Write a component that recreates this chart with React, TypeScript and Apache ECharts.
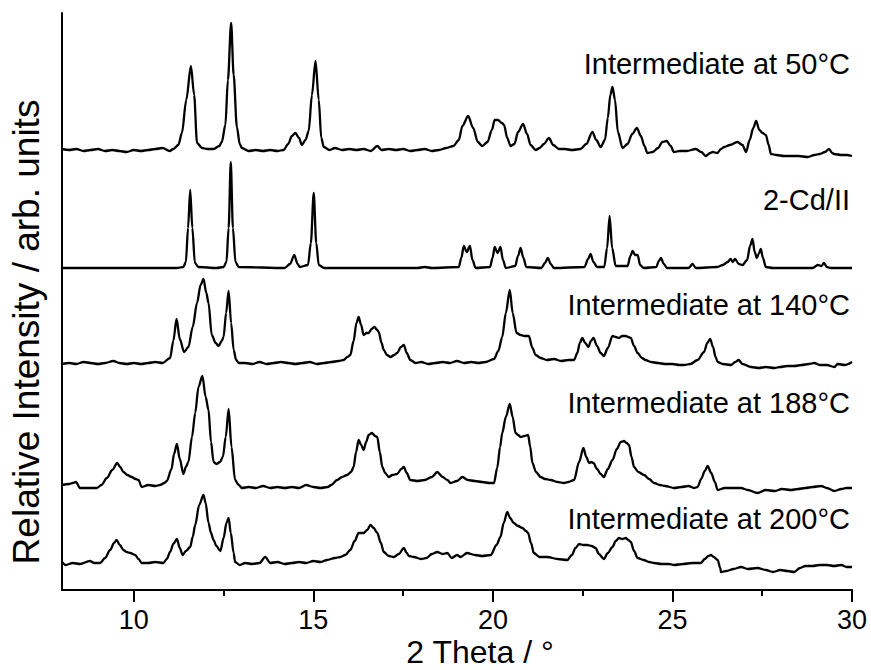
import React, { useEffect, useRef } from "react";
import * as echarts from "echarts";

// 2θ tick positions
const xMajorTicks = [10, 15, 20, 25, 30];
const xMinorTicks = [12.5, 17.5, 22.5, 27.5];

const traceNames = [
  "Intermediate at 50°C",
  "2-Cd/II",
  "Intermediate at 140°C",
  "Intermediate at 188°C",
  "Intermediate at 200°C",
];

// vertical stacking offsets of each pattern (arb. units)
const traceOffsets = [440, 322, 227, 103, 27];

// [2θ, relative intensity] for each pattern
const pattern50: number[][] = [
  [8.0, 1], [8.2, 0], [8.4, 1], [8.6, -1], [8.8, 0], [9.0, 1], [9.2, -1], [9.4, 0], [9.6, -1], [9.8, -2],
  [10.0, 0], [10.2, -1], [10.4, 0], [10.6, 1], [10.8, 2], [11.0, -1], [11.1, 1], [11.24, 5], [11.34, 17],
  [11.46, 50], [11.59, 84], [11.68, 55], [11.76, 7], [11.9, 2], [12.05, 1], [12.22, 1], [12.38, 4],
  [12.45, 8], [12.55, 25], [12.62, 70], [12.71, 127], [12.78, 75], [12.87, 23], [12.95, 6], [13.01, 2],
  [13.2, -1], [13.4, 0], [13.6, -1], [13.8, 0], [14.0, -1], [14.17, 0], [14.3, 6], [14.4, 14], [14.5, 17],
  [14.6, 12], [14.68, 5], [14.78, 10], [14.87, 19], [14.96, 55], [15.06, 89], [15.15, 50], [15.22, 12],
  [15.29, 3], [15.45, 0], [15.6, 2], [15.8, 0], [16.0, 1], [16.2, 0], [16.4, 1], [16.6, -1], [16.78, 4],
  [16.9, 0], [17.1, 1], [17.3, 0], [17.5, 1], [17.7, -1], [17.9, 0], [18.1, 1], [18.3, -1], [18.5, 0],
  [18.7, 2], [18.9, 4], [19.05, 10], [19.15, 24], [19.31, 34], [19.45, 22], [19.58, 8], [19.7, 4],
  [19.85, 8], [19.97, 20], [20.05, 30], [20.14, 30], [20.25, 27], [20.31, 25], [20.4, 12], [20.49, 4],
  [20.6, 6], [20.7, 18], [20.84, 26], [20.95, 16], [21.05, 5], [21.19, 0], [21.3, 2], [21.42, 6],
  [21.56, 12], [21.68, 5], [21.84, 1], [22.0, 1], [22.2, 0], [22.44, 1], [22.6, 6], [22.77, 18],
  [22.88, 10], [23.0, 3], [23.12, 10], [23.2, 32], [23.27, 55], [23.33, 63], [23.4, 50], [23.48, 18],
  [23.61, 2], [23.75, 6], [23.88, 16], [24.01, 22], [24.12, 14], [24.22, 4], [24.3, -3], [24.45, -2],
  [24.6, 2], [24.72, 8], [24.84, 9], [24.95, 4], [25.04, -2], [25.2, -1], [25.4, -1], [25.65, 1],
  [25.8, -2], [25.93, -6], [26.05, -3], [26.12, -2], [26.25, -3], [26.35, 1], [26.44, 3], [26.6, 5],
  [26.81, 8], [26.95, 5], [27.05, -2], [27.15, 10], [27.25, 22], [27.33, 29], [27.42, 20], [27.51, 17],
  [27.6, 15], [27.68, 5], [27.74, -4], [27.9, -5], [28.1, -6], [28.3, -6], [28.5, -6], [28.77, -7],
  [28.95, -5], [29.1, -4], [29.25, -2], [29.36, 1], [29.45, -3], [29.5, -4], [29.7, -5], [29.85, -5],
  [30.0, -6],
];

const patternCd: number[][] = [
  [8.0, 0], [11.2, 0], [11.38, 1], [11.45, 6], [11.51, 40], [11.57, 78], [11.63, 40], [11.7, 5], [11.8, 1],
  [12.3, 0], [12.5, 1], [12.58, 6], [12.64, 40], [12.7, 106], [12.76, 40], [12.83, 6], [12.92, 1],
  [14.2, 0], [14.35, 4], [14.47, 13], [14.56, 4], [14.62, 1], [14.85, 3], [14.93, 25], [15.01, 75],
  [15.08, 25], [15.15, 3], [15.3, 0], [17.9, 0], [18.1, 1], [18.3, 0], [19.05, 1], [19.12, 10],
  [19.19, 22], [19.27, 16], [19.36, 22], [19.43, 8], [19.52, 0], [19.92, 1], [19.99, 10], [20.05, 21],
  [20.13, 15], [20.21, 21], [20.28, 8], [20.36, 0], [20.62, 2], [20.7, 12], [20.77, 20], [20.85, 10],
  [20.93, 1], [21.35, 0], [21.45, 5], [21.53, 10], [21.61, 4], [21.7, 0], [22.55, 1], [22.65, 9],
  [22.72, 14], [22.8, 6], [22.9, 1], [23.1, 1], [23.18, 20], [23.25, 52], [23.32, 20], [23.42, 2],
  [23.75, 2], [23.83, 12], [23.89, 17], [23.96, 13], [24.03, 13], [24.1, 3], [24.2, 0], [24.55, 1],
  [24.62, 7], [24.68, 10], [24.76, 4], [24.85, 0], [25.45, 0], [25.56, 4], [25.65, 0], [26.25, 1],
  [26.4, 3], [26.54, 6], [26.62, 9], [26.68, 6], [26.74, 9], [26.85, 4], [26.95, 3], [27.08, 8],
  [27.16, 22], [27.23, 29], [27.29, 16], [27.35, 10], [27.4, 14], [27.46, 19], [27.52, 10], [27.6, 1],
  [27.8, 0], [28.9, 0], [29.05, 3], [29.15, 2], [29.22, 5], [29.3, 1], [29.4, 0], [30.0, 0],
];

const pattern140: number[][] = [
  [8.0, -1], [8.2, 0], [8.4, -1], [8.6, 1], [8.8, 0], [9.0, -1], [9.2, 0], [9.43, 2], [9.6, 0], [9.8, -1],
  [10.0, 0], [10.2, -1], [10.4, 0], [10.6, 1], [10.8, 0], [11.01, 5], [11.1, 22], [11.19, 44], [11.28, 24],
  [11.4, 11], [11.52, 16], [11.64, 36], [11.76, 60], [11.86, 78], [11.94, 84], [12.02, 70], [12.08, 60],
  [12.17, 28], [12.28, 20], [12.36, 17], [12.45, 22], [12.5, 26], [12.57, 50], [12.64, 72], [12.71, 40],
  [12.78, 13], [12.85, 3], [12.92, 0], [13.1, 0], [13.3, -1], [13.5, 1], [13.7, -1], [13.9, 0], [14.1, 1],
  [14.3, 0], [14.5, -1], [14.7, 0], [14.9, 1], [15.1, -1], [15.3, 0], [15.5, 1], [15.7, 2], [15.84, 3],
  [15.95, 6], [16.03, 8], [16.12, 22], [16.2, 40], [16.26, 46], [16.33, 38], [16.4, 28], [16.48, 30],
  [16.54, 30], [16.62, 34], [16.7, 36], [16.78, 33], [16.82, 31], [16.9, 20], [16.96, 13], [17.05, 8],
  [17.15, 6], [17.25, 8], [17.33, 10], [17.44, 16], [17.52, 18], [17.6, 10], [17.7, 3], [17.85, 0],
  [18.0, 1], [18.2, -1], [18.4, 0], [18.6, 1], [18.8, 0], [19.0, 2], [19.2, 0], [19.4, 1], [19.6, 0],
  [19.8, 1], [20.03, 4], [20.15, 12], [20.26, 26], [20.36, 50], [20.47, 73], [20.55, 50], [20.66, 30],
  [20.77, 28], [20.88, 27], [21.0, 27], [21.1, 15], [21.19, 8], [21.33, 5], [21.5, 3], [21.7, 4],
  [21.9, 2], [22.1, 3], [22.26, 3], [22.35, 10], [22.42, 20], [22.49, 25], [22.57, 20], [22.66, 16],
  [22.73, 22], [22.8, 25], [22.9, 17], [23.0, 10], [23.09, 7], [23.2, 15], [23.33, 27], [23.42, 26],
  [23.51, 25], [23.6, 27], [23.7, 27], [23.77, 26], [23.84, 25], [23.93, 17], [24.03, 10], [24.15, 5],
  [24.25, 3], [24.4, 1], [24.6, 0], [24.8, -1], [25.0, -1], [25.2, -2], [25.33, -2], [25.5, -1],
  [25.7, 3], [25.88, 11], [25.97, 20], [26.05, 24], [26.13, 16], [26.2, 6], [26.26, 1], [26.4, -1],
  [26.63, -2], [26.75, 1], [26.84, 3], [26.95, -1], [27.19, -4], [27.4, -5], [27.6, -4], [27.84, -5],
  [28.0, -4], [28.2, -3], [28.4, -3], [28.6, -2], [28.8, -1], [28.95, 0], [29.1, -2], [29.3, -2],
  [29.51, -4], [29.6, -1], [29.8, -2], [30.0, 1],
];

const pattern188: number[][] = [
  [8.0, 2], [8.2, 3], [8.3, 4], [8.39, 5], [8.5, -1], [8.7, -1], [8.97, -1], [9.1, 2], [9.25, 9], [9.4, 17],
  [9.54, 24], [9.62, 20], [9.71, 15], [9.82, 12], [9.94, 10], [10.05, 8], [10.13, 7], [10.22, 0], [10.4, 2],
  [10.6, 1], [10.73, 2], [10.85, 4], [10.92, 6], [11.05, 18], [11.12, 33], [11.2, 43], [11.28, 28],
  [11.38, 13], [11.45, 20], [11.52, 25], [11.62, 50], [11.71, 74], [11.8, 100], [11.91, 111], [12.0, 90],
  [12.08, 77], [12.15, 45], [12.22, 25], [12.3, 23], [12.4, 25], [12.48, 30], [12.56, 50], [12.64, 78],
  [12.72, 40], [12.82, 7], [12.92, 2], [13.01, -1], [13.2, 0], [13.4, -1], [13.6, 1], [13.8, -1], [14.0, 0],
  [14.2, -1], [14.4, 0], [14.6, -1], [14.8, 2], [15.0, 0], [15.2, -1], [15.4, 0], [15.5, 2], [15.66, 7],
  [15.8, 10], [15.94, 12], [16.05, 15], [16.12, 20], [16.19, 35], [16.26, 47], [16.33, 42], [16.4, 37],
  [16.47, 45], [16.54, 52], [16.63, 54], [16.72, 51], [16.78, 50], [16.85, 35], [16.92, 20], [17.0, 14],
  [17.1, 10], [17.2, 12], [17.33, 13], [17.45, 18], [17.52, 20], [17.6, 14], [17.7, 7], [17.9, 6],
  [18.1, 7], [18.3, 10], [18.45, 15], [18.6, 10], [18.73, 7], [18.82, 4], [19.0, 6], [19.15, 10],
  [19.3, 7], [19.5, 6], [19.7, 5], [19.9, 4], [20.03, 4], [20.12, 19], [20.2, 40], [20.26, 54], [20.36, 70],
  [20.47, 83], [20.55, 70], [20.63, 54], [20.7, 52], [20.77, 50], [20.88, 51], [20.98, 52], [21.04, 40],
  [21.1, 24], [21.2, 15], [21.33, 10], [21.45, 8], [21.61, 7], [21.8, 5], [21.98, 4], [22.1, 5],
  [22.26, 7], [22.4, 25], [22.52, 39], [22.6, 30], [22.68, 24], [22.74, 25], [22.8, 24], [22.9, 18],
  [23.0, 13], [23.09, 10], [23.2, 18], [23.33, 27], [23.45, 38], [23.56, 45], [23.65, 46], [23.72, 44],
  [23.79, 42], [23.86, 30], [23.93, 20], [24.05, 15], [24.21, 12], [24.35, 8], [24.49, 4], [24.65, 2],
  [24.8, 1], [25.05, -1], [25.25, 0], [25.45, 1], [25.6, -1], [25.7, 0], [25.8, 8], [25.9, 16],
  [25.98, 21], [26.08, 14], [26.18, 5], [26.26, -3], [26.45, -1], [26.65, -1], [26.91, -1], [27.1, -3],
  [27.37, -6], [27.6, -3], [27.85, -4], [28.05, -2], [28.3, -3], [28.5, -2], [28.7, -1], [28.9, 0],
  [29.14, 1], [29.3, -1], [29.51, -4], [29.7, -2], [29.85, -1], [30.0, -1],
];

const pattern200: number[][] = [
  [8.0, 1], [8.1, -2], [8.3, 0], [8.5, -1], [8.78, 2], [8.9, 0], [9.06, 0], [9.2, 5], [9.34, 13], [9.45, 20],
  [9.52, 23], [9.61, 18], [9.71, 13], [9.8, 11], [9.9, 10], [10.04, 8], [10.13, 4], [10.22, 0], [10.4, 0],
  [10.6, 1], [10.82, 0], [10.92, 4], [11.01, 11], [11.1, 19], [11.2, 24], [11.28, 15], [11.36, 8],
  [11.45, 12], [11.57, 16], [11.64, 26], [11.71, 38], [11.82, 58], [11.94, 68], [12.0, 60], [12.08, 40],
  [12.15, 30], [12.22, 23], [12.3, 17], [12.41, 12], [12.5, 25], [12.58, 40], [12.64, 45], [12.7, 30],
  [12.78, 10], [12.82, 1], [12.95, -2], [13.1, 0], [13.3, -1], [13.5, 0], [13.66, 6], [13.8, 0], [14.0, 1],
  [14.2, -1], [14.4, 0], [14.6, 1], [14.8, 0], [15.0, 2], [15.2, 1], [15.38, 3], [15.6, 5], [15.75, 6],
  [15.89, 8], [16.03, 13], [16.15, 22], [16.26, 30], [16.4, 30], [16.5, 33], [16.59, 38], [16.68, 35],
  [16.78, 30], [16.88, 20], [16.96, 11], [17.1, 7], [17.24, 6], [17.38, 9], [17.52, 15], [17.6, 10],
  [17.66, 7], [17.8, 6], [18.0, 4], [18.15, 5], [18.3, 9], [18.45, 11], [18.6, 9], [18.73, 10],
  [18.85, 5], [19.0, 8], [19.1, 6], [19.28, 10], [19.5, 8], [19.7, 7], [19.94, 8], [20.1, 18],
  [20.21, 26], [20.3, 40], [20.4, 51], [20.48, 45], [20.58, 40], [20.7, 37], [20.82, 35], [20.92, 32],
  [20.98, 30], [21.06, 20], [21.14, 10], [21.3, 6], [21.52, 6], [21.8, 4], [22.07, 3], [22.2, 8],
  [22.3, 15], [22.4, 19], [22.52, 18], [22.63, 18], [22.75, 17], [22.86, 15], [22.95, 9], [23.09, 4],
  [23.2, 10], [23.33, 16], [23.42, 22], [23.51, 25], [23.6, 24], [23.7, 25], [23.77, 23], [23.84, 21],
  [23.93, 12], [24.03, 5], [24.2, 3], [24.35, 1], [24.49, 0], [24.7, -1], [24.9, -1], [25.05, -2],
  [25.3, -1], [25.55, 0], [25.79, 0], [25.9, 4], [26.0, 7], [26.07, 8], [26.15, 6], [26.26, 3],
  [26.33, -5], [26.35, -9], [26.5, -8], [26.7, -6], [26.91, -4], [27.1, -6], [27.37, -5], [27.6, -7],
  [27.8, -9], [28.0, -7], [28.2, -8], [28.39, -9], [28.55, -5], [28.7, -3], [28.9, -3], [29.1, -2],
  [29.3, -2], [29.5, -3], [29.7, -2], [29.85, -4], [30.0, -4],
];

const patterns = [pattern50, patternCd, pattern140, pattern188, pattern200];

const FONT = '"Liberation Sans", Arial, Helvetica, sans-serif';

export default function App() {
  const ref = useRef<HTMLDivElement>(null);

  useEffect(() => {
    if (!ref.current) return;
    const chart = echarts.init(ref.current, undefined, { renderer: "svg" });

    const series = patterns.map((pts, i) => ({
      name: traceNames[i],
      type: "line" as const,
      xAxisIndex: 0,
      yAxisIndex: 0,
      showSymbol: false,
      smooth: 0.3,
      smoothMonotone: "x" as const,
      lineStyle: { color: "#000", width: 2.3 },
      data: pts.map(([x, y]) => [x, y + traceOffsets[i]]),
    }));

    // vertical centre of each pattern's caption, in pixels from the top
    const captionY = [64, 200, 305, 403, 519];

    chart.setOption({
      animation: false,
      grid: { left: 62, right: 19, top: 13, bottom: 80, containLabel: false },
      xAxis: [
        {
          type: "value",
          min: 8,
          max: 30,
          position: "bottom",
          axisLine: { show: true, onZero: false, lineStyle: { color: "#000", width: 2 } },
          axisTick: {
            show: true,
            length: 12,
            customValues: xMajorTicks,
            lineStyle: { color: "#000", width: 2 },
          },
          axisLabel: {
            customValues: xMajorTicks,
            color: "#000",
            fontSize: 27,
            fontFamily: FONT,
            margin: 16,
          },
          splitLine: { show: false },
        },
        {
          type: "value",
          min: 8,
          max: 30,
          position: "bottom",
          axisLine: { show: false, onZero: false },
          axisTick: {
            show: true,
            length: 6,
            customValues: xMinorTicks,
            lineStyle: { color: "#000", width: 2 },
          },
          axisLabel: { show: false },
          splitLine: { show: false },
        },
      ],
      yAxis: {
        type: "value",
        min: 0,
        max: 577,
        axisLine: { show: true, onZero: false, lineStyle: { color: "#000", width: 2 } },
        axisTick: { show: false },
        axisLabel: { show: false },
        splitLine: { show: false },
      },
      series,
      graphic: [
        ...traceNames.map((name, i) => ({
          type: "text",
          x: 850,
          y: captionY[i],
          silent: true,
          style: {
            text: name,
            fill: "#000",
            font: `29px ${FONT}`,
            align: "right",
            verticalAlign: "middle",
          },
        })),
        {
          type: "text",
          x: 480,
          y: 652,
          silent: true,
          style: {
            text: "2 Theta / °",
            fill: "#000",
            font: `32px ${FONT}`,
            align: "center",
            verticalAlign: "middle",
          },
        },
        {
          type: "text",
          x: 26,
          y: 332,
          rotation: Math.PI / 2,
          silent: true,
          style: {
            text: "Relative Intensity / arb. units",
            fill: "#000",
            font: `37px ${FONT}`,
            align: "center",
            verticalAlign: "middle",
          },
        },
      ],
    });

    return () => chart.dispose();
  }, []);

  return (
    <div
      ref={ref}
      style={{ position: "fixed", left: 0, top: 0, width: 871, height: 670, background: "#fff" }}
    />
  );
}
